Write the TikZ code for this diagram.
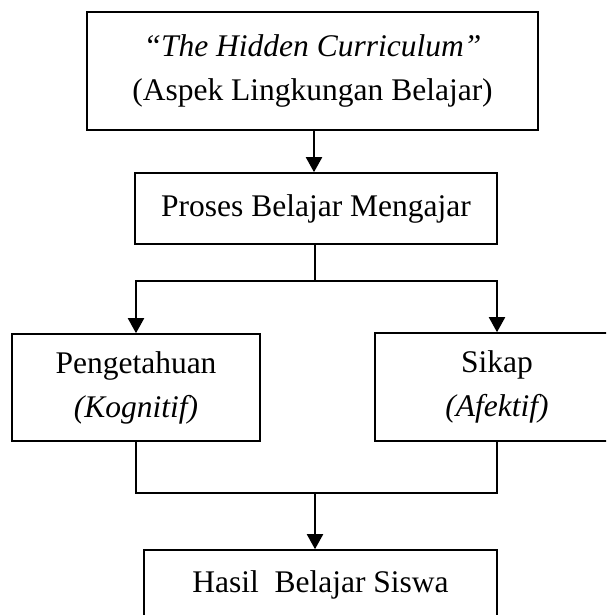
\documentclass[tikz,border=0pt]{standalone}
\usepackage{fontspec}
\setmainfont{Liberation Serif}
\usetikzlibrary{arrows.meta}
\begin{document}
\begin{tikzpicture}[x=1pt,y=-1pt,
  box/.style={draw=black, line width=1.6pt, inner sep=0pt, align=center,
    font=\fontsize{31.5}{44}\selectfont},
  link/.style={draw=black, line width=1.6pt},
  arr/.style={draw=black, line width=2pt, -{Triangle[length=15pt,width=16pt]}}]
\useasboundingbox (0,0) rectangle (606,615);
\clip (0,0) rectangle (606,615);
\fill[white] (0,0) rectangle (606,615);
\node[box, minimum width=451pt, minimum height=118pt] (hc) at (312.5,71)
  {\textit{“The Hidden Curriculum”}\\(Aspek Lingkungan Belajar)};
\node[box, minimum width=362pt, minimum height=71pt] (pbm) at (316,208.5)
  {Proses Belajar Mengajar};
\node[box, minimum width=248pt, minimum height=107pt] (kog) at (136,387.5)
  {Pengetahuan\\\textit{(Kognitif)}};
\node[box, minimum width=244pt, minimum height=108pt] (afk) at (497,387)
  {Sikap\\\textit{(Afektif)}};
\node[box, minimum width=353pt, minimum height=70pt] (hbs) at (320.5,585)
  {Hasil~~Belajar Siswa};
\coordinate (j1) at (315,281);
\coordinate (j2) at (315,493);
\draw[arr] (hc.south -| 314,0) -- (pbm.north -| 314,0);
\draw[link] (pbm.south -| j1) -- (j1);
\draw[arr] (j1) -| (kog.north);
\draw[arr] (j1) -| (afk.north);
\draw[link] (kog.south) |- (j2) -| (afk.south);
\draw[arr] (j2) -- (hbs.north -| j2);
\end{tikzpicture}
\end{document}
